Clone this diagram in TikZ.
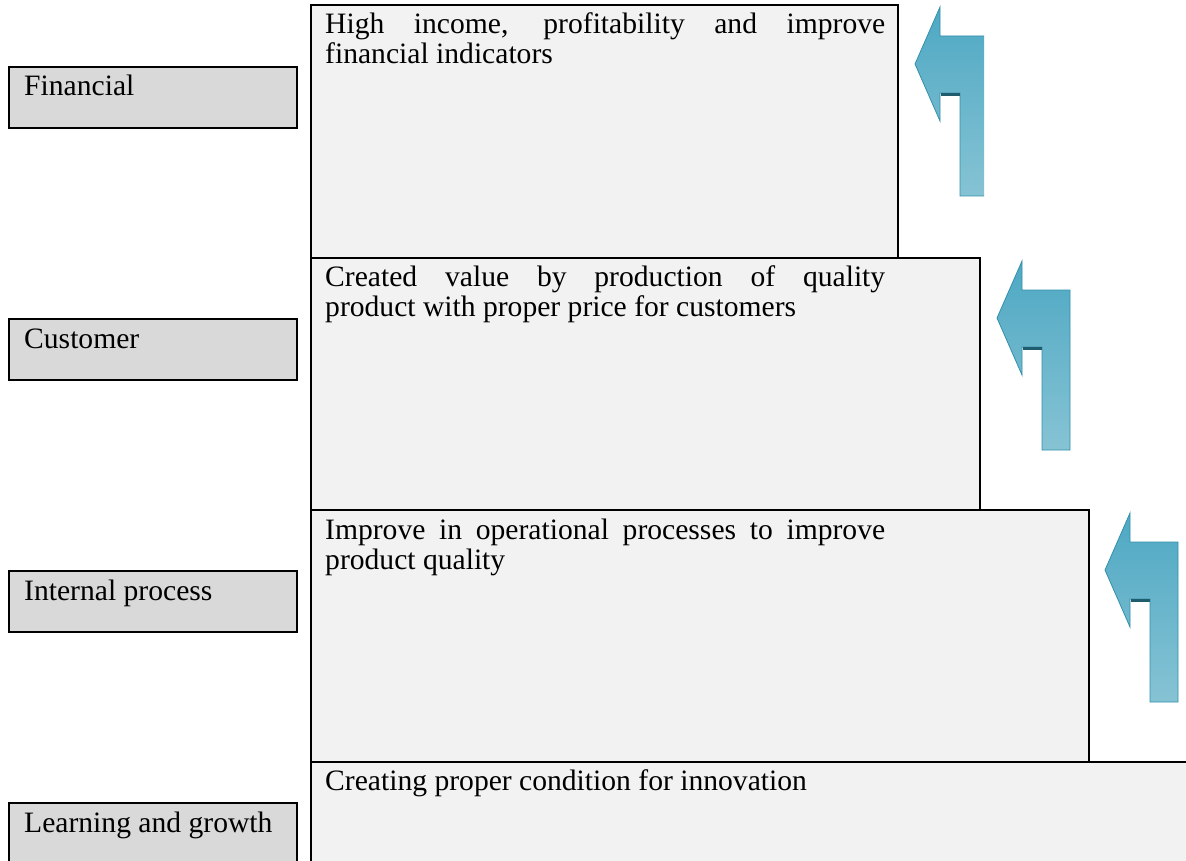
\documentclass[tikz,border=0pt]{standalone}
\usepackage{fontspec}
\setmainfont{Liberation Serif}
\begin{document}
\begin{tikzpicture}[x=1pt,y=-1pt,
  labelbox/.style={draw=black,line width=2.6pt,fill=labelgray,inner sep=0pt},
  goalbox/.style={draw=black,line width=2.6pt,fill=goalgray,inner sep=0pt},
  labeltext/.style={anchor=base west,inner sep=0pt,font=\fontsize{29.6}{30}\selectfont},
  goaltext/.style={anchor=north west,inner sep=0pt,text width=560pt,align=justify,
    font=\fontsize{29.6}{30}\selectfont},
  bentarrow/.pic={
    % bent arrow: vertical shaft rising, turning left into an arrowhead
    \shade[top color=arrowtop,middle color=arrowmid,bottom color=arrowbot,
           draw=arrowedge,line width=0.8pt,line join=miter]
      (0,0) -- (25,-57) -- (25,-28) -- (73,-28) -- (73,132) -- (45,132)
      -- (45,29) -- (25,29) -- (25,57) -- cycle;
    \draw[arrowshadow,line width=2.4pt] (26,30.5) -- (45,30.5);
  }]
\definecolor{labelgray}{HTML}{D9D9D9}
\definecolor{goalgray}{HTML}{F2F2F2}
\definecolor{arrowtop}{HTML}{4EA8C3}
\definecolor{arrowmid}{HTML}{3798B4}
\definecolor{arrowbot}{HTML}{86C3D4}
\definecolor{arrowedge}{HTML}{3390AB}
\definecolor{arrowshadow}{HTML}{1E5C6E}

\useasboundingbox (0,0) rectangle (1186,861);
\clip (0,0) rectangle (1186,861);
\fill[white] (0,0) rectangle (1186,861);

% perspective names
\path[labelbox] (9,67) rectangle (297,128);
\node[labeltext] (fin) at (24,96) {Financial};
\path[labelbox] (9,319) rectangle (297,380);
\node[labeltext] (cus) at (24,348) {Customer};
\path[labelbox] (9,571) rectangle (297,632);
\node[labeltext] (int) at (24,600) {Internal process};
\path[labelbox] (9,803) rectangle (297,880);
\node[labeltext] (lea) at (24,832) {Learning and growth};

% stepped goal boxes, from bottom to top
\path[goalbox] (311,762) rectangle (1195,880);
\path[goalbox] (311,510) rectangle (1089,762);
\path[goalbox] (311,258) rectangle (980,510);
\path[goalbox] (311,5) rectangle (898,258);

% goal texts; the top of each node lies one ascender height above the first baseline
\node[goaltext] (g1) at (325,12.5)
  {High income, profitability and improve\linebreak financial indicators};
\node[goaltext] (g2) at (325,265.5)
  {Created value by production of quality\linebreak product with proper price for customers};
\node[goaltext] (g3) at (325,518.5)
  {Improve in operational processes to improve\linebreak product quality};
\node[goaltext] (g4) at (325,769.5)
  {Creating proper condition for innovation};

% upward arrows beside the boxes
\begin{scope}
  \clip (0,0) rectangle (984,861);
  \pic (a1) at (915,64) {bentarrow};
\end{scope}
\pic (a2) at (997,318) {bentarrow};
\pic (a3) at (1105,570) {bentarrow};
\end{tikzpicture}
\end{document}
